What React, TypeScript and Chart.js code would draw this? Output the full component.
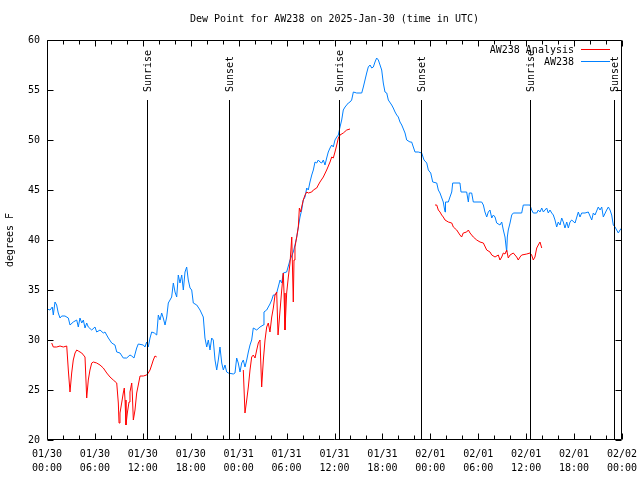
import React, { useEffect, useRef } from 'react';
import { Chart, registerables } from 'chart.js';

Chart.register(...registerables);

const chartTitle = 'Dew Point for AW238 on 2025-Jan-30 (time in UTC)';
const yTitle = 'degrees F';
const seriesNames = ['AW238 Analysis', 'AW238'];
const seriesColors = ['#ff0000', '#0080ff'];

// hours since 2025-01-30 00:00 UTC
const blueHours = [
  0.0, 0.38, 0.66, 0.79, 1.0, 1.21, 1.41, 1.63, 1.84, 2.25, 2.67, 2.88, 3.29, 3.72, 3.92, 4.13, 4.35, 4.55, 4.76, 4.97,
  5.17, 5.6, 6.01, 6.22, 6.64, 7.05, 7.26, 7.68, 8.1, 8.51, 8.73, 9.14, 9.55, 9.98, 10.39, 10.61, 10.89, 11.23, 11.43, 12.06,
  12.27, 12.48, 12.68, 12.9, 13.11, 13.44, 13.74, 13.86, 13.94, 14.15, 14.36, 14.56, 14.78, 14.99, 15.19, 15.4, 15.61, 15.82, 16.03, 16.24,
  16.44, 16.65, 16.87, 17.07, 17.28, 17.49, 17.69, 17.91, 18.12, 18.32, 18.75, 19.16, 19.57, 19.78, 20.0, 20.2, 20.41, 20.62, 20.82, 21.04,
  21.25, 21.45, 21.66, 21.88, 22.08, 22.29, 22.5, 22.7, 23.33, 23.54, 23.75, 23.95, 24.17, 24.38, 24.58, 24.79, 25.01, 25.21, 25.42, 25.63,
  25.83, 26.26, 26.67, 27.09, 27.17, 27.51, 27.71, 27.92, 28.14, 28.34, 28.55, 28.76, 29.18, 29.39, 29.59, 30.01, 30.43, 30.84, 31.05, 31.27,
  31.47, 31.68, 31.89, 32.09, 32.31, 32.52, 32.72, 32.93, 33.15, 33.35, 33.56, 33.77, 33.97, 34.18, 34.4, 34.6, 34.81, 35.02, 35.22, 35.44,
  35.65, 35.85, 36.06, 36.28, 36.48, 36.69, 36.9, 37.1, 37.32, 37.73, 37.94, 38.15, 38.36, 38.78, 39.41, 39.61, 39.82, 40.03, 40.23, 40.45,
  40.66, 40.86, 41.07, 41.28, 41.49, 41.7, 41.91, 42.11, 42.32, 42.54, 42.74, 43.16, 43.36, 43.58, 43.79, 43.99, 44.2, 44.42, 44.83, 45.04,
  45.45, 45.66, 45.87, 46.08, 46.49, 46.92, 47.21, 47.55, 47.75, 48.05, 48.3, 48.8, 49.0, 49.21, 49.62, 49.84, 49.9, 50.25, 50.46, 50.68,
  50.8, 51.71, 51.84, 52.55, 52.76, 52.88, 53.18, 53.38, 54.43, 54.64, 54.84, 55.06, 55.26, 55.47, 55.69, 55.89, 56.1, 56.31, 56.72, 56.94,
  57.14, 57.35, 57.56, 57.64, 57.76, 57.98, 58.19, 58.39, 59.44, 59.64, 60.48, 60.69, 60.89, 61.32, 61.52, 61.73, 61.95, 62.15, 62.36, 62.57,
  62.77, 62.98, 63.2, 63.4, 63.61, 63.82, 64.02, 64.24, 64.45, 64.65, 64.86, 65.08, 65.28, 65.49, 65.7, 66.12, 66.53, 66.74, 66.95, 67.37,
  67.78, 68.21, 68.41, 68.62, 69.03, 69.25, 69.46, 69.66, 70.08, 70.29, 70.5, 70.71, 70.91, 71.13, 71.33, 71.54, 71.75, 71.96,
];
const blueDew = [
  33.1, 33.0, 33.3, 32.5, 33.8, 33.5, 32.7, 32.2, 32.4, 32.4, 32.2, 31.5, 31.8, 32.0, 31.3, 32.2, 31.7, 32.0, 31.2, 31.7,
  31.3, 31.0, 31.3, 30.8, 31.0, 30.7, 30.8, 30.2, 29.7, 29.5, 28.8, 28.7, 28.2, 28.2, 28.5, 28.4, 28.2, 29.2, 29.6, 29.5,
  29.3, 29.8, 29.3, 30.2, 30.8, 30.7, 30.5, 31.7, 32.5, 32.0, 32.7, 32.2, 31.5, 32.3, 33.7, 34.0, 34.3, 35.7, 34.8, 34.3,
  36.5, 35.7, 36.5, 35.0, 36.8, 37.3, 36.0, 35.2, 35.0, 33.7, 33.5, 33.0, 32.3, 30.2, 29.3, 30.0, 29.0, 30.2, 30.0, 28.0,
  27.0, 28.0, 29.3, 27.7, 27.0, 27.5, 26.8, 26.7, 26.6, 26.7, 28.2, 27.7, 26.8, 27.7, 28.0, 27.3, 28.0, 28.8, 29.5, 30.0,
  31.2, 31.0, 31.3, 31.5, 32.8, 33.0, 33.3, 33.6, 34.0, 34.5, 34.5, 34.7, 36.0, 35.7, 36.7, 36.8, 38.0, 38.8, 39.5, 40.3,
  41.3, 42.3, 43.0, 44.0, 44.3, 45.2, 45.0, 45.8, 46.5, 47.0, 47.8, 47.7, 48.0, 47.8, 47.7, 48.0, 47.5, 48.2, 48.8, 49.2,
  49.5, 49.3, 50.0, 50.3, 50.5, 51.3, 52.0, 53.0, 53.3, 53.7, 53.8, 54.0, 54.8, 54.7, 54.7, 55.3, 56.0, 56.7, 57.3, 57.5,
  57.2, 57.3, 57.8, 58.2, 58.0, 57.5, 57.0, 55.7, 54.8, 54.7, 54.0, 53.5, 53.2, 52.8, 52.5, 52.3, 51.8, 51.5, 50.7, 50.0,
  49.8, 49.8, 49.3, 48.8, 48.8, 48.7, 48.0, 47.7, 47.0, 46.7, 45.8, 45.7, 45.0, 44.7, 43.8, 42.8, 43.8, 43.8, 44.3, 44.8,
  45.7, 45.7, 44.8, 44.8, 43.8, 44.7, 44.7, 43.8, 43.8, 43.5, 42.8, 42.3, 42.8, 43.0, 42.2, 42.5, 42.3, 41.7, 41.5, 41.8,
  41.0, 40.3, 38.8, 40.3, 41.0, 41.7, 42.5, 42.7, 42.7, 43.5, 43.5, 43.0, 42.7, 42.7, 43.0, 42.8, 43.2, 42.8, 43.0, 43.2,
  42.7, 43.0, 42.7, 42.5, 42.0, 41.3, 41.8, 41.5, 42.2, 41.8, 41.2, 41.8, 41.2, 41.8, 42.0, 41.7, 42.8, 42.3, 42.7, 42.7,
  42.8, 42.0, 42.7, 42.5, 43.3, 43.0, 43.3, 42.3, 43.0, 43.3, 43.0, 42.5, 41.5, 41.3, 41.0, 40.7, 41.0, 41.2,
];

// null values mark gaps in the analysis series
const redHours = [
  0.59, 0.79, 1.21, 1.63, 2.04, 2.47, 2.67, 2.88, 3.09, 3.29, 3.51, 3.72, 3.92, 4.35, 4.76, 4.97, 5.17, 5.38, 5.6, 5.8,
  6.22, 6.64, 7.05, 7.48, 7.89, 8.3, 8.73, 8.93, 9.02, 9.14, 9.35, 9.55, 9.68, 9.77, 9.89, 10.06, 10.27, 10.39, 10.61, 10.68,
  10.81, 11.02, 11.23, 11.43, 11.65, 12.06, 12.48, 12.68, 12.9, 13.11, 13.31, 13.52, 13.74,
  18.0,
  24.58, 24.79, 25.01, 25.21, 25.42, 25.63, 25.83, 26.05, 26.26, 26.46, 26.67, 26.88, 27.09, 27.3, 27.51, 27.71, 27.92, 28.14, 28.34, 28.55,
  28.76, 28.93, 29.39, 29.59, 29.68, 29.8, 30.01, 30.22, 30.43, 30.65, 30.84, 30.93, 31.05, 31.27, 31.47, 31.6, 31.77, 31.89, 32.09, 32.31,
  32.52, 32.72, 33.15, 33.35, 33.77, 33.97, 34.18, 34.6, 35.02, 35.44, 35.65, 35.85, 36.06, 36.28, 36.48, 36.69, 37.1, 37.53, 37.94,
  42.0,
  48.59, 48.8, 49.0, 49.21, 49.42, 49.62, 49.84, 50.25, 50.68, 50.88, 51.3, 51.71, 51.92, 52.12, 52.55, 52.76, 52.97, 53.38, 53.81, 54.22,
  54.64, 55.06, 55.47, 55.69, 56.1, 56.51, 56.72, 56.94, 57.14, 57.35, 57.56, 57.76, 57.98, 58.39, 58.81, 59.01, 59.23, 59.44, 60.07, 60.48,
  60.69, 60.89, 61.1, 61.32, 61.52, 61.73, 61.95,
];
const redDew = [
  29.7, 29.3, 29.3, 29.4, 29.3, 29.4, 27.0, 24.8, 26.7, 28.0, 28.7, 29.0, 28.9, 28.7, 28.3, 24.2, 26.0, 27.0, 27.7, 27.8,
  27.7, 27.5, 27.2, 26.7, 26.3, 26.0, 25.7, 23.7, 21.7, 22.7, 23.7, 24.7, 25.2, 24.0, 21.5, 22.7, 23.8, 24.8, 25.7, 24.7,
  22.0, 23.0, 24.7, 25.5, 26.4, 26.4, 26.5, 26.7, 27.0, 27.5, 28.0, 28.4, 28.3,
  null,
  27.0, 22.7, 24.0, 25.3, 27.0, 28.3, 28.5, 28.2, 29.0, 29.7, 30.0, 25.3, 28.0, 30.0, 31.3, 31.7, 30.8, 32.3, 33.2, 34.5,
  34.8, 30.5, 35.0, 36.7, 34.7, 31.0, 34.7, 36.3, 37.7, 40.3, 33.8, 38.0, 39.3, 40.3, 41.3, 43.2, 42.8, 43.3, 44.0, 44.5,
  44.8, 44.7, 44.8, 45.0, 45.2, 45.5, 45.8, 46.3, 47.0, 47.8, 48.3, 48.2, 48.8, 49.5, 50.2, 50.5, 50.7, 51.0, 51.1,
  null,
  43.5, 43.5, 43.0, 42.8, 42.5, 42.3, 42.0, 41.8, 41.7, 41.3, 41.0, 40.5, 40.3, 40.7, 40.8, 41.0, 40.7, 40.3, 40.0, 39.8,
  39.7, 39.0, 38.8, 38.5, 38.3, 38.5, 38.0, 38.3, 38.7, 38.6, 39.0, 38.2, 38.5, 38.7, 38.3, 38.0, 38.3, 38.5, 38.6, 38.7,
  38.5, 38.0, 38.3, 39.2, 39.5, 39.8, 39.2,
];

const sunriseHours = [12.55, 36.6, 60.53];
const sunsetHours = [22.83, 46.87, 70.95];

const xTickDates = ['01/30', '01/30', '01/30', '01/30', '01/31', '01/31', '01/31', '01/31', '02/01', '02/01', '02/01', '02/01', '02/02'];
const xTickTimes = ['00:00', '06:00', '12:00', '18:00', '00:00', '06:00', '12:00', '18:00', '00:00', '06:00', '12:00', '18:00', '00:00'];
const yTicks = [20, 25, 30, 35, 40, 45, 50, 55, 60];

const FONT_FAMILY = '"DejaVu Sans Mono", "Liberation Mono", monospace';

const framePlugin = {
  id: 'gnuplotFrame',
  afterDatasetsDraw(chart: any) {
    const { ctx, chartArea: a, scales } = chart;
    const x = scales.x;
    const y = scales.y;
    ctx.save();
    ctx.strokeStyle = '#000';
    ctx.lineWidth = 1;
    const L = Math.round(a.left) + 0.5;
    const R = Math.round(a.right) - 0.5;
    const T = Math.round(a.top) + 0.5;
    const B = Math.round(a.bottom) - 0.5;

    // ticks on all four sides (inward)
    ctx.beginPath();
    for (let h = 0; h <= 72; h += 2) {
      const px = Math.round(x.getPixelForValue(h)) + 0.5;
      const len = h % 6 === 0 ? 6 : 4;
      ctx.moveTo(px, B); ctx.lineTo(px, B - len);
      ctx.moveTo(px, T); ctx.lineTo(px, T + len);
    }
    for (const v of yTicks) {
      const py = Math.round(y.getPixelForValue(v)) + 0.5;
      ctx.moveTo(L, py); ctx.lineTo(L + 6, py);
      ctx.moveTo(R, py); ctx.lineTo(R - 6, py);
    }
    ctx.stroke();

    // sunrise / sunset markers
    ctx.font = `10px ${FONT_FAMILY}`;
    ctx.fillStyle = '#000';
    const drawSun = (h: number, label: string) => {
      const px = Math.round(x.getPixelForValue(h)) + 0.5;
      ctx.beginPath();
      ctx.moveTo(px, B);
      ctx.lineTo(px, 100);
      ctx.stroke();
      ctx.save();
      ctx.translate(px + 1, 92);
      ctx.rotate(-Math.PI / 2);
      ctx.textAlign = 'left';
      ctx.textBaseline = 'middle';
      ctx.fillText(label, 0, 0);
      ctx.restore();
    };
    sunriseHours.forEach((h) => drawSun(h, 'Sunrise'));
    sunsetHours.forEach((h) => drawSun(h, 'Sunset'));

    // border
    ctx.beginPath();
    ctx.rect(L, T, R - L, B - T);
    ctx.stroke();

    // key
    ctx.textAlign = 'right';
    ctx.textBaseline = 'middle';
    seriesNames.forEach((name, i) => {
      const ky = 50 + i * 12;
      ctx.fillStyle = '#000';
      ctx.fillText(name, 574, ky);
      ctx.fillStyle = seriesColors[i];
      ctx.fillRect(581, ky - 1, 29, 1);
    });
    ctx.restore();
  },
};

export default function App() {
  const canvasRef = useRef<HTMLCanvasElement | null>(null);

  useEffect(() => {
    const canvas = canvasRef.current;
    if (!canvas) return;
    const redData = redHours.map((h, i) => ({ x: h, y: redDew[i] }));
    const blueData = blueHours.map((h, i) => ({ x: h, y: blueDew[i] }));
    const font = { family: FONT_FAMILY, size: 10, weight: 'normal' as const };
    const chart = new Chart(canvas, {
      type: 'line',
      data: {
        datasets: [
          {
            label: seriesNames[0],
            data: redData as any,
            borderColor: seriesColors[0],
            borderWidth: 1,
            pointRadius: 0,
            tension: 0,
            spanGaps: false,
            fill: false,
          },
          {
            label: seriesNames[1],
            data: blueData as any,
            borderColor: seriesColors[1],
            borderWidth: 1,
            pointRadius: 0,
            tension: 0,
            fill: false,
          },
        ],
      },
      options: {
        animation: false,
        responsive: false,
        events: [],
        layout: { padding: { top: 0, right: 18, bottom: 0, left: 0 } },
        plugins: {
          legend: { display: false },
          tooltip: { enabled: false },
          title: {
            display: true,
            fullSize: false,
            text: chartTitle,
            color: '#000',
            font: { ...font, lineHeight: 1.2 },
            padding: { top: 13, bottom: 15 },
          },
        },
        scales: {
          x: {
            type: 'linear',
            min: 0,
            max: 72,
            afterFit: (s: any) => {
              s.height = 40;
              s.paddingLeft = 0;
              s.paddingRight = 0;
            },
            grid: { display: false, drawTicks: false },
            border: { display: false },
            ticks: {
              stepSize: 6,
              autoSkip: false,
              maxRotation: 0,
              minRotation: 0,
              padding: 7,
              color: '#000',
              font: { ...font, lineHeight: 1.4 },
              callback: (v: any) => {
                const i = Math.round(Number(v) / 6);
                return [xTickDates[i], xTickTimes[i]];
              },
            },
          },
          y: {
            type: 'linear',
            min: 20,
            max: 60,
            afterFit: (s: any) => {
              s.width = 47;
              s.paddingTop = 0;
              s.paddingBottom = 0;
            },
            grid: { display: false, drawTicks: false },
            border: { display: false },
            ticks: {
              stepSize: 5,
              padding: 7,
              color: '#000',
              font,
            },
            title: {
              display: true,
              text: yTitle,
              color: '#000',
              font,
              padding: { top: 4, bottom: 0 },
            },
          },
        },
      },
      plugins: [framePlugin],
    });
    return () => chart.destroy();
  }, []);

  return (
    <div style={{ position: 'absolute', left: 0, top: 0, width: 640, height: 480, background: '#fff' }}>
      <canvas ref={canvasRef} width={640} height={480} />
    </div>
  );
}
